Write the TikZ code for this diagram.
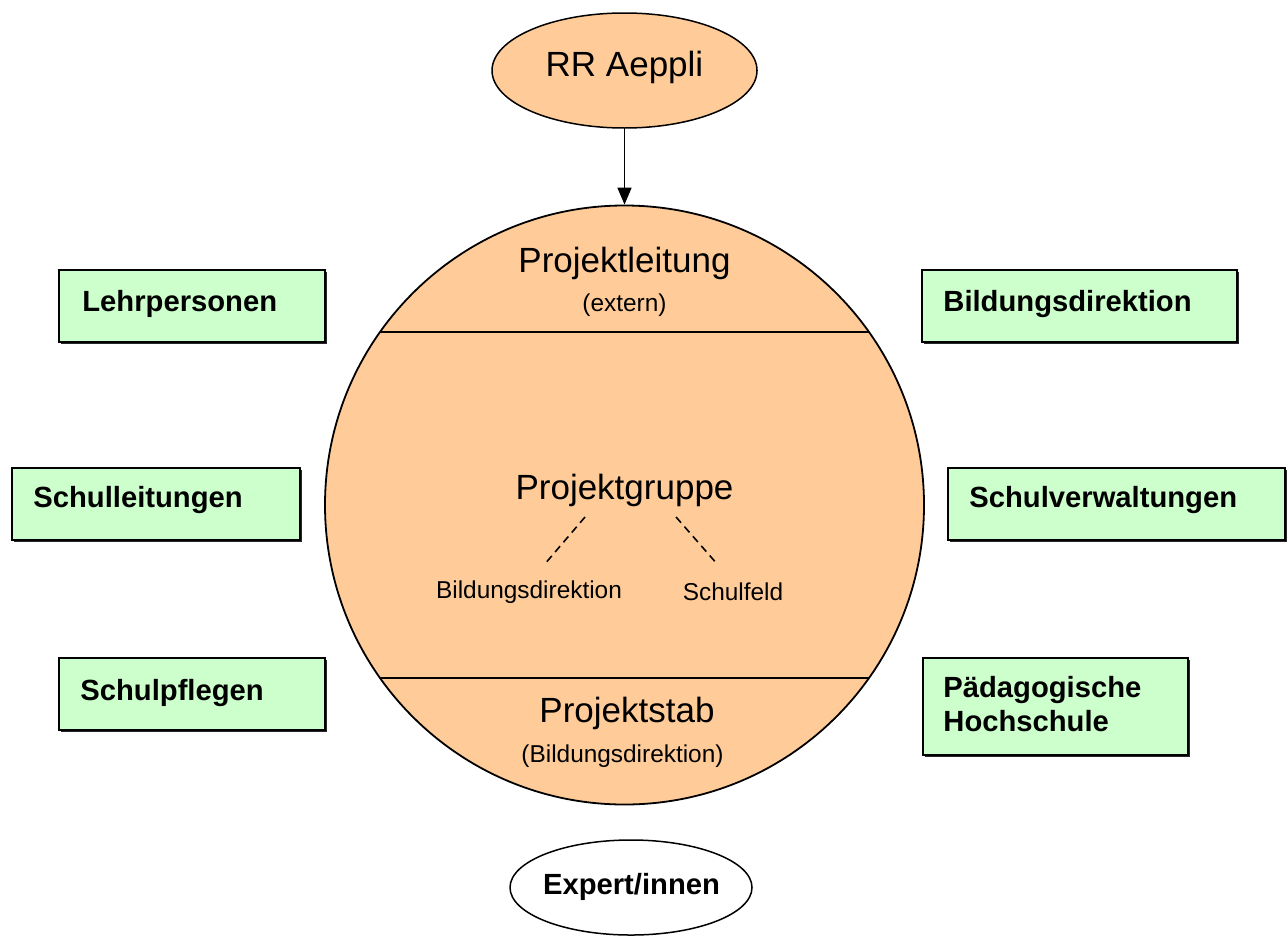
\documentclass[tikz,border=0pt]{standalone}
\usepackage{fontspec}
\setmainfont{Liberation Sans}
\usetikzlibrary{shapes.geometric,arrows.meta,shadows}
\definecolor{peach}{HTML}{FFCC99}
\definecolor{mint}{HTML}{CCFFCC}
\tikzset{
  bigtxt/.style={font=\fontsize{17.5pt}{21pt}\selectfont, inner sep=0pt},
  smalltxt/.style={font=\fontsize{12.2pt}{14.6pt}\selectfont, inner sep=0pt},
  boxtxt/.style={font=\fontsize{14.6pt}{17pt}\selectfont\bfseries, inner sep=0pt, anchor=base west},
  greenbox/.style={draw=black, line width=0.7pt, fill=mint, rectangle, inner sep=0pt,
    drop shadow={shadow xshift=0.9pt, shadow yshift=-0.9pt, fill=black!85, opacity=1}},
  oval/.style={ellipse, draw=black, line width=0.75pt, inner sep=0pt},
  divider/.style={draw=black, line width=0.9pt},
  dashline/.style={draw=black, line width=0.8pt, dash pattern=on 3.8pt off 2.6pt},
}
\begin{document}
\begin{tikzpicture}[x=0.5pt,y=-0.5pt]
\useasboundingbox (0,0) rectangle (1288,937);
% top ellipse
\node[oval, fill=peach, minimum width=132.5pt, minimum height=57.5pt] (rr) at (624.5,70.5) {};
\node[bigtxt] (rrt) at (624.5,67) {RR Aeppli};
% big circle
\node[circle, draw=black, line width=0.9pt, fill=peach, minimum size=299.5pt, inner sep=0pt] (circ) at (624.5,505) {};
\coordinate (ta) at (380,332);
\coordinate (tb) at (869,332);
\coordinate (ba) at (380,678);
\coordinate (bb) at (869,678);
\draw[divider] (ta) -- (tb);
\draw[divider] (ba) -- (bb);
% arrow
\draw[line width=0.8pt, -{Triangle[length=8.5pt,width=7pt]}] (rr.south) -- (circ.north);
% circle texts
\node[bigtxt] (pl) at (624.5,263) {Projektleitung};
\node[smalltxt] (plx) at (624.5,305) {(extern)};
\node[bigtxt] (pg) at (624.5,490) {Projektgruppe};
\node[smalltxt] (pgb) at (529,592) {Bildungsdirektion};
\node[smalltxt] (pgs) at (733,592) {Schulfeld};
\coordinate (dl1) at (585,517);
\coordinate (dl2) at (544,565);
\coordinate (dr1) at (676,517);
\coordinate (dr2) at (718,565);
\draw[dashline] (dl1) -- (dl2);
\draw[dashline] (dr1) -- (dr2);
\node[bigtxt] (ps) at (627,713) {Projektstab};
\node[smalltxt] (psb) at (622.5,756) {(Bildungsdirektion)};
% green boxes
\node[greenbox, minimum width=133pt, minimum height=36pt] (b1) at (192,306) {};
\node[boxtxt] (t1) at (82,311) {Lehrpersonen};
\node[greenbox, minimum width=157.5pt, minimum height=36pt] (b2) at (1079.5,306) {};
\node[boxtxt] (t2) at (943,311) {Bildungsdirektion};
\node[greenbox, minimum width=144pt, minimum height=36pt] (b3) at (156,504) {};
\node[boxtxt] (t3) at (33,507) {Schulleitungen};
\node[greenbox, minimum width=168.5pt, minimum height=36pt] (b4) at (1116.5,504) {};
\node[boxtxt] (t4) at (969,507) {Schulverwaltungen};
\node[greenbox, minimum width=133pt, minimum height=36pt] (b5) at (192,694) {};
\node[boxtxt] (t5) at (80,700) {Schulpflegen};
\node[greenbox, minimum width=132.5pt, minimum height=48.5pt] (b6) at (1055.5,706.5) {};
\node[boxtxt] (t6a) at (943,697) {Pädagogische};
\node[boxtxt] (t6b) at (943,731) {Hochschule};
% bottom ellipse
\node[oval, fill=white, minimum width=121pt, minimum height=47.5pt] (ex) at (631,887.5) {};
\node[font=\fontsize{14.6pt}{17pt}\selectfont\bfseries, inner sep=0pt] (ext) at (631.5,887) {Expert/innen};
\end{tikzpicture}
\end{document}
